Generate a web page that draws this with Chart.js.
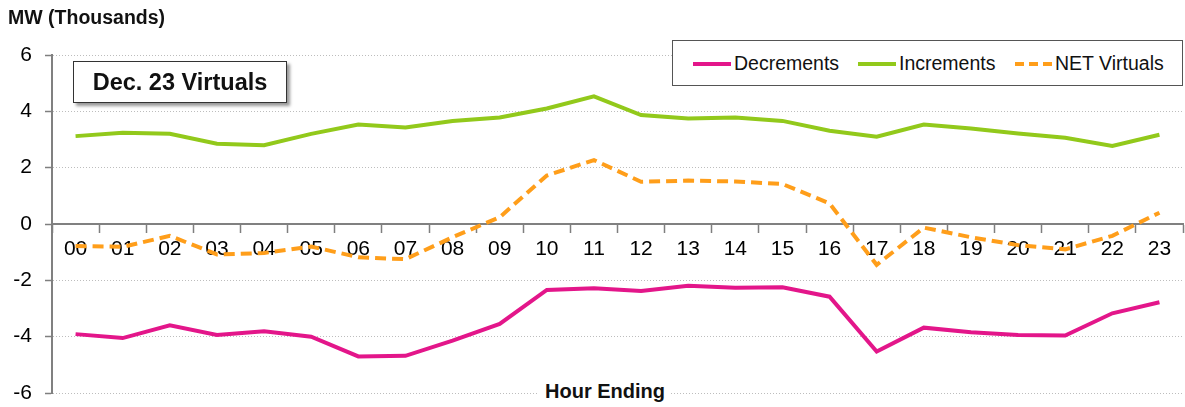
<!DOCTYPE html>
<html>
<head>
<meta charset="utf-8">
<script src="https://cdn.jsdelivr.net/npm/chart.js@4.4.0/dist/chart.umd.min.js"></script>
<style>
body{margin:0;background:#fff;font-family:"Liberation Sans",Arial,sans-serif}
#wrap{position:relative;width:1185px;height:407px}
#yTitle{position:absolute;left:8px;top:6px;font-weight:bold;font-size:19.5px;color:#111}
#titleBox{position:absolute;left:73px;top:61px;width:212px;height:40px;border:1px solid #333;background:#fff;
  box-shadow:3px 3px 3px #999;font-weight:bold;font-size:23.5px;line-height:40px;text-align:center;color:#111}
#legend{position:absolute;left:672px;top:40px;width:509px;height:44px;border:1px solid #555;background:#fff}
.item{position:absolute;top:0;height:44px;line-height:44px;font-size:19.5px;color:#111}
.swatch{position:absolute;top:21px;height:4px;width:38px}
#xTitle{position:absolute;left:539px;top:380px;padding:0 6px;background:#fff;font-weight:bold;font-size:20px;color:#111}
</style>
</head>
<body>
<div id="wrap">
  <canvas id="lineChart"></canvas>
  <div id="yTitle">MW (Thousands)</div>
  <div id="titleBox">Dec. 23 Virtuals</div>
  <div id="legend"></div>
  <div id="xTitle">Hour Ending</div>
</div>
<script>
// hours on the x axis
var hours = ["00","01","02","03","04","05","06","07","08","09","10","11",
             "12","13","14","15","16","17","18","19","20","21","22","23"]

// MW (thousands)
var decrements = [-3.91,-4.05,-3.60,-3.94,-3.81,-4.00,-4.70,-4.68,-4.14,-3.55,-2.34,-2.28,
                  -2.38,-2.19,-2.26,-2.25,-2.58,-4.53,-3.68,-3.84,-3.94,-3.96,-3.17,-2.78]
var increments = [3.12,3.24,3.20,2.85,2.80,3.20,3.53,3.43,3.66,3.78,4.10,4.53,
                  3.87,3.75,3.78,3.66,3.31,3.10,3.53,3.39,3.21,3.06,2.77,3.17]
var netVirtuals = [-0.78,-0.81,-0.42,-1.08,-1.03,-0.80,-1.18,-1.25,-0.47,0.24,1.72,2.27,
                   1.50,1.54,1.51,1.42,0.73,-1.45,-0.13,-0.47,-0.75,-0.90,-0.42,0.40]

var seriesNames = ["Decrements","Increments","NET Virtuals"]
var seriesColors = ["#E3168A","#92C91B","#FF9E1A"]

var yMin = -6, yMax = 6, yStep = 2

var tickFont = {family:"'Liberation Sans Narrow','Liberation Sans',Arial", size:21}
// tiny lineHeight so the y labels don't push the chart bottom up
var yTickFont = {family:"'Liberation Sans Narrow','Liberation Sans',Arial", size:21, lineHeight:0.01}

var canvas = document.getElementById("lineChart")
canvas.width = 1185
canvas.height = 407

var data = {
    labels: hours,
    datasets: [{
        label: seriesNames[0],
        data: decrements,
        borderColor: seriesColors[0],
        backgroundColor: seriesColors[0],
        borderWidth: 4,
        pointRadius: 0,
        tension: 0
    },{
        label: seriesNames[1],
        data: increments,
        borderColor: seriesColors[1],
        backgroundColor: seriesColors[1],
        borderWidth: 4,
        pointRadius: 0,
        tension: 0
    },{
        label: seriesNames[2],
        data: netVirtuals,
        borderColor: seriesColors[2],
        backgroundColor: seriesColors[2],
        borderWidth: 4,
        borderDash: [11,6],
        pointRadius: 0,
        tension: 0
    }]
}

var options = {
    responsive: false,
    animation: false,
    layout: {padding: {top: 55, right: 2, bottom: 14, left: 0}},
    plugins: {legend: {display: false}, tooltip: {enabled: false}},
    scales: {
        x: {
            type: "category",
            position: {y: 0},
            offset: true,
            afterFit: function(scale){ scale.height = 0 },
            grid: {drawOnChartArea: false, drawTicks: true, tickLength: 8, offset: true,
                   tickColor: "#7f7f7f", tickWidth: 1.5, color: "#7f7f7f"},
            border: {display: true, color: "#808080", width: 2},
            ticks: {font: tickFont, color: "#000", padding: 5, maxRotation: 0, autoSkip: false}
        },
        y: {
            min: yMin,
            max: yMax,
            afterFit: function(scale){ scale.width = 52 },
            grid: {color: "#bdbdbd", lineWidth: 1, tickLength: 7, tickColor: "#7f7f7f",
                   tickWidth: 1.5, tickBorderDash: []},
            border: {display: true, color: "#808080", width: 2, dash: [1,2]},
            ticks: {stepSize: yStep, font: yTickFont, color: "#000", padding: 13}
        }
    }
}

var myChart = new Chart(canvas, {type: "line", data: data, options: options})

// legend box
var legend = document.getElementById("legend")
var swatchX = [20, 185, 342]
var textX = [61, 226, 382]
for (var i = 0; i < seriesNames.length; i++) {
    var sw = document.createElement("div")
    sw.className = "swatch"
    sw.style.left = swatchX[i] + "px"
    if (i == 2) {
        sw.style.background = "repeating-linear-gradient(to right," + seriesColors[i] + " 0 9px,transparent 9px 14px)"
    } else {
        sw.style.background = seriesColors[i]
    }
    legend.appendChild(sw)
    var tx = document.createElement("div")
    tx.className = "item"
    tx.style.left = textX[i] + "px"
    tx.textContent = seriesNames[i]
    legend.appendChild(tx)
}
</script>
</body>
</html>
